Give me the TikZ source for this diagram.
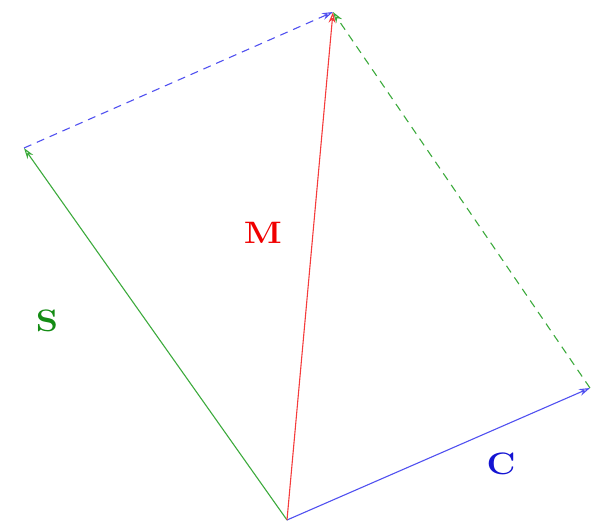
\documentclass[tikz,border=0pt]{standalone}
\usetikzlibrary{arrows.meta}
\definecolor{vgreen}{RGB}{60,170,60}
\definecolor{vblue}{RGB}{80,80,240}
\definecolor{vred}{RGB}{245,60,60}
\definecolor{lred}{RGB}{240,0,0}
\definecolor{lgreen}{RGB}{20,140,20}
\definecolor{lblue}{RGB}{20,20,210}
\tikzset{
  vec/.style={line width=1.1pt,-{Stealth[length=11pt,width=7pt,open]}},
  dvec/.style={vec,dash pattern=on 8pt off 6pt},
  lbl/.style={font=\bfseries\fontsize{31}{33}\selectfont,inner sep=0pt}
}
\begin{document}
\begin{tikzpicture}[x=1pt,y=-1pt]
\useasboundingbox (0,0) rectangle (592,523);
\coordinate (O) at (287,520);
\coordinate (C) at (590,388);
\coordinate (S) at (24,148);
\coordinate (M) at (333,12);
\draw[vec,vblue] (O) -- (C);
\draw[vec,vgreen] (O) -- (S);
\draw[vec,vred] (O) -- (M);
\draw[dvec,vblue] (S) -- (M);
\draw[dvec,vgreen] (C) -- (M);
\node[lbl,text=lred,xscale=1.15] (lm) at (263,233) {M};
\node[lbl,text=lgreen,xscale=1.15] (ls) at (47,321) {S};
\node[lbl,text=lblue,xscale=1.15] (lc) at (501,464) {C};
\end{tikzpicture}
\end{document}
